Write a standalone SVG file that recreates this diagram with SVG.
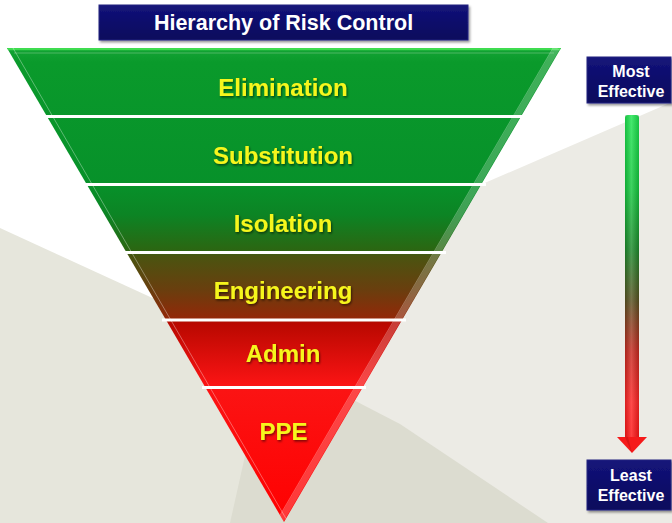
<svg xmlns="http://www.w3.org/2000/svg" width="672" height="523" viewBox="0 0 672 523">
<defs>
<style>
.lbl{font-family:"Liberation Sans",Arial,sans-serif;font-weight:bold;font-size:24px;fill:#f6f61e;text-anchor:middle;filter:url(#ts)}
.box{fill:url(#navy);stroke:#262680;stroke-width:1;filter:url(#bs)}
.btx{font-family:"Liberation Sans",Arial,sans-serif;font-weight:bold;font-size:16px;fill:#ffffff;text-anchor:middle}
.sep{stroke:#ffffff;stroke-width:3}
.band{fill:url(#tri)}
</style>
<linearGradient id="tri" gradientUnits="userSpaceOnUse" x1="0" y1="48" x2="0" y2="522">
<stop offset="0" stop-color="#14a435"/>
<stop offset="0.03" stop-color="#0a9a2b"/>
<stop offset="0.289" stop-color="#07912a"/>
<stop offset="0.352" stop-color="#0c8424"/>
<stop offset="0.426" stop-color="#2b6612"/>
<stop offset="0.439" stop-color="#4a5410"/>
<stop offset="0.511" stop-color="#6a3e0e"/>
<stop offset="0.570" stop-color="#922808"/>
<stop offset="0.580" stop-color="#b80800"/>
<stop offset="0.711" stop-color="#fb1414"/>
<stop offset="1" stop-color="#ff0000"/>
</linearGradient>
<linearGradient id="arr" gradientUnits="userSpaceOnUse" x1="0" y1="115" x2="0" y2="453">
<stop offset="0" stop-color="#1ee650"/>
<stop offset="0.22" stop-color="#14c83e"/>
<stop offset="0.40" stop-color="#1d8a2c"/>
<stop offset="0.55" stop-color="#5a5222"/>
<stop offset="0.70" stop-color="#c82a20"/>
<stop offset="0.85" stop-color="#ff2424"/>
<stop offset="1" stop-color="#ff1010"/>
</linearGradient>
<linearGradient id="shine" x1="0" y1="0" x2="1" y2="0">
<stop offset="0" stop-color="#000" stop-opacity="0.15"/>
<stop offset="0.45" stop-color="#fff" stop-opacity="0.18"/>
<stop offset="1" stop-color="#000" stop-opacity="0.15"/>
</linearGradient>
<linearGradient id="navy" x1="0" y1="0" x2="0" y2="1">
<stop offset="0" stop-color="#14147a"/>
<stop offset="1" stop-color="#07075c"/>
</linearGradient>
<filter id="ts" x="-10%" y="-30%" width="120%" height="160%">
<feDropShadow dx="1" dy="1.5" stdDeviation="1" flood-color="#000" flood-opacity="0.55"/>
</filter>
<filter id="bs" x="-10%" y="-20%" width="125%" height="150%">
<feDropShadow dx="1.5" dy="2" stdDeviation="1.2" flood-color="#000" flood-opacity="0.4"/>
</filter>
<clipPath id="triclip">
<polygon points="7,48 561,48 284,522"/>
</clipPath>
</defs>

<!-- background -->
<rect x="0" y="0" width="672" height="523" fill="#ffffff"/>
<polygon points="0,228 320,375 320,523 0,523" fill="#e6e6dc"/>
<polygon points="672,102 300,263 300,523 672,523" fill="#ecebe5"/>
<polygon points="230,523 262,380 340,393 400,424 548,523" fill="#dcdcd0"/>

<!-- title -->
<g id="title">
<rect class="box" x="99" y="5" width="369" height="35"/>
<text x="283.5" y="30" style="font-family:'Liberation Sans',Arial,sans-serif;font-weight:bold;font-size:21.5px;fill:#ffffff;text-anchor:middle">Hierarchy of Risk Control</text>
</g>

<!-- pyramid bands -->
<g id="elimination">
<polygon class="band" points="7,48 561,48 521,116.5 47,116.5"/>
<text class="lbl" x="283" y="96">Elimination</text>
</g>
<g id="substitution">
<polygon class="band" points="47,116.5 521,116.5 481.2,184.5 86.8,184.5"/>
<text class="lbl" x="283" y="164">Substitution</text>
</g>
<g id="isolation">
<polygon class="band" points="86.8,184.5 481.2,184.5 441.5,252.5 126.5,252.5"/>
<text class="lbl" x="283" y="232">Isolation</text>
</g>
<g id="engineering">
<polygon class="band" points="126.5,252.5 441.5,252.5 402,320 166,320"/>
<text class="lbl" x="283" y="299">Engineering</text>
</g>
<g id="admin">
<polygon class="band" points="166,320 402,320 362.6,387.5 205.4,387.5"/>
<text class="lbl" x="283" y="362">Admin</text>
</g>
<g id="ppe">
<polygon class="band" points="205.4,387.5 362.6,387.5 284,522"/>
<text class="lbl" x="283.5" y="440">PPE</text>
</g>

<!-- bevel highlights -->
<g clip-path="url(#triclip)" fill="none">
<line x1="7" y1="49" x2="561" y2="49" stroke="#3fdc50" stroke-width="2.5"/>
<line x1="14" y1="53" x2="554" y2="53" stroke="#ffffff" stroke-opacity="0.25" stroke-width="1"/>
<line x1="13" y1="48" x2="288" y2="522" stroke="#ffffff" stroke-opacity="0.35" stroke-width="1"/>
<line x1="557" y1="48" x2="280" y2="522" stroke="#ffffff" stroke-opacity="0.22" stroke-width="6"/>
<line x1="553" y1="48" x2="276" y2="522" stroke="#ffffff" stroke-opacity="0.3" stroke-width="1"/>
</g>

<!-- separators -->
<g id="separators">
<line class="sep" x1="44" y1="116.5" x2="524" y2="116.5"/>
<line class="sep" x1="83" y1="184.5" x2="486" y2="184.5"/>
<line class="sep" x1="123" y1="252.5" x2="446" y2="252.5"/>
<line class="sep" x1="162" y1="320" x2="406" y2="320"/>
<line class="sep" x1="202" y1="387.5" x2="366" y2="387.5"/>
</g>

<!-- effectiveness scale -->
<g id="most">
<rect class="box" x="587" y="57" width="84" height="46"/>
<text class="btx" x="631" y="77">Most</text>
<text class="btx" x="631" y="97">Effective</text>
</g>
<g id="connectors">
<path d="M625,118 Q625,115 628,115 L636,115 Q639,115 639,118 L639,438 L625,438 Z" fill="url(#arr)"/>
<rect x="625" y="115" width="14" height="323" fill="url(#shine)"/>
<polygon points="617,437 647,437 632,453" fill="#f51a1a"/>
<polygon points="625,437 632,453 628,437" fill="#c01010" opacity="0.5"/>
</g>
<g id="least">
<rect class="box" x="587" y="460" width="84" height="50"/>
<text class="btx" x="631" y="481">Least</text>
<text class="btx" x="631" y="501">Effective</text>
</g>
</svg>
